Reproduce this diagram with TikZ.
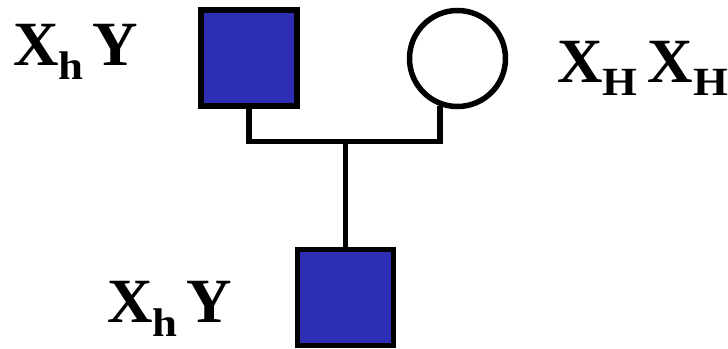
\documentclass[tikz,border=0pt]{standalone}
\usepackage{fontspec}
\setmainfont{Liberation Serif}
\definecolor{affblue}{RGB}{46,46,180}
\newcommand{\gsub}[2]{\raisebox{-#1}{\fontsize{40}{40}\selectfont\scalebox{1.12}[1]{#2}}}
\begin{document}
\begin{tikzpicture}[x=1pt,y=-1pt,
  person/.style={draw=black,line width=5.5pt,inner sep=0pt},
  affected/.style={person,rectangle,fill=affblue,minimum size=96pt},
  female/.style={person,circle,fill=white,minimum size=96pt},
  link/.style={line width=5.5pt},
  geno/.style={anchor=base west,inner sep=0pt,font=\fontsize{63}{63}\selectfont\bfseries}]
\useasboundingbox (0,0) rectangle (728,348);
\node[affected] (s1) at (249,58) {};
\node[female] (c1) at (457.5,58.5) {};
\node[affected] (s2) at (345.5,297.5) {};
\draw[link] (s1.south) -- ++(0,32.5) coordinate (bl) -| (c1.250);
\coordinate (mid) at (s2.north |- bl);
\draw[link] (mid) -- (s2.north);
\node[geno] (g1) at (13,65) {X\gsub{14pt}{h}\hspace{9pt}Y};
\node[geno] (g2) at (557,82) {X\gsub{13pt}{H}\hspace{10pt}X\gsub{13pt}{H}};
\node[geno] (g3) at (107,322) {X\gsub{14pt}{h}\hspace{9pt}Y};
\end{tikzpicture}
\end{document}
